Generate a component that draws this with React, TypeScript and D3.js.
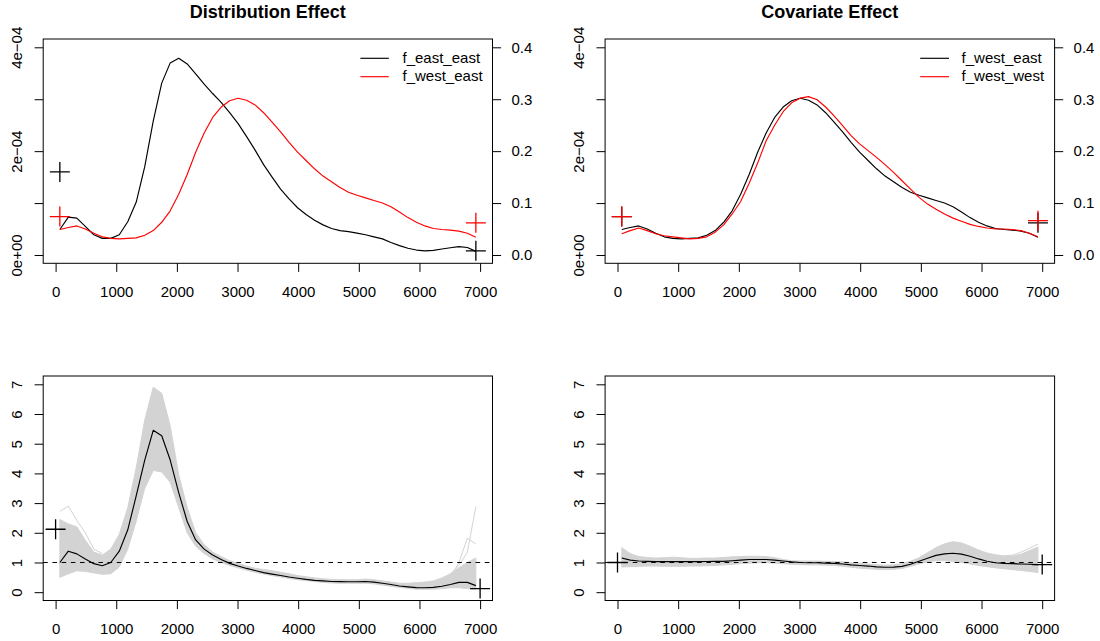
import React, { useEffect, useRef } from 'react';
import * as d3 from 'd3';

// income grid the densities were evaluated on
const gridX = [70, 210, 350, 490, 630, 770, 910, 1050, 1190, 1330, 1470, 1610, 1750, 1890, 2030, 2170, 2310, 2450, 2590, 2730,
  2870, 3010, 3150, 3290, 3430, 3570, 3710, 3850, 3990, 4130, 4270, 4410, 4550, 4690, 4830, 4970, 5110, 5250, 5390, 5530,
  5670, 5810, 5950, 6090, 6230, 6370, 6510, 6650, 6790, 6930];

// densities, in units of 1e-04
const fEastEast = [0.49, 0.73, 0.71, 0.55, 0.39, 0.32, 0.32, 0.39, 0.64, 1.02, 1.70, 2.58, 3.31, 3.70, 3.79, 3.68, 3.49, 3.29, 3.11, 2.94,
  2.74, 2.53, 2.28, 2.02, 1.74, 1.50, 1.27, 1.08, 0.91, 0.78, 0.67, 0.58, 0.51, 0.47, 0.45, 0.42, 0.39, 0.35, 0.31, 0.24,
  0.18, 0.13, 0.095, 0.08, 0.09, 0.115, 0.14, 0.16, 0.145, 0.07];
const fWestEast = [0.49, 0.53, 0.56, 0.50, 0.42, 0.35, 0.32, 0.31, 0.32, 0.33, 0.38, 0.47, 0.63, 0.85, 1.17, 1.55, 1.98, 2.35, 2.65, 2.85,
  2.97, 3.02, 2.98, 2.89, 2.74, 2.56, 2.37, 2.17, 1.98, 1.82, 1.66, 1.52, 1.41, 1.30, 1.21, 1.15, 1.10, 1.05, 1.00, 0.93,
  0.83, 0.72, 0.63, 0.56, 0.51, 0.49, 0.48, 0.46, 0.42, 0.34];
const fWestWest = [0.41, 0.47, 0.52, 0.47, 0.41, 0.37, 0.35, 0.33, 0.31, 0.32, 0.35, 0.44, 0.58, 0.79, 1.03, 1.38, 1.77, 2.20, 2.50, 2.76,
  2.93, 3.02, 3.05, 2.99, 2.85, 2.68, 2.49, 2.30, 2.14, 2.01, 1.88, 1.74, 1.59, 1.43, 1.27, 1.11, 0.98, 0.88, 0.79, 0.71,
  0.65, 0.59, 0.55, 0.52, 0.50, 0.50, 0.49, 0.47, 0.42, 0.35];

// point masses at the ends (right axis)
const massX = [70, 6930];
const massEastEast = [0.16, 0.008];
const massWestEast = [0.074, 0.062];
const massWestWest = [0.074, 0.066];

// ratios and bootstrap band
const distRatio = [1.0, 1.38, 1.29, 1.12, 0.96, 0.89, 1.0, 1.38, 2.1, 3.25, 4.45, 5.45, 5.27, 4.45, 3.35, 2.38, 1.76, 1.45, 1.25, 1.1,
  0.97, 0.88, 0.80, 0.73, 0.66, 0.61, 0.56, 0.51, 0.47, 0.43, 0.40, 0.38, 0.36, 0.355, 0.35, 0.35, 0.36, 0.34, 0.30, 0.26,
  0.21, 0.18, 0.155, 0.15, 0.16, 0.20, 0.26, 0.33, 0.33, 0.22];
const distLo = [0.5, 0.62, 0.72, 0.7, 0.65, 0.6, 0.62, 0.85, 1.45, 2.4, 3.5, 4.1, 4.05, 3.7, 2.85, 2.0, 1.55, 1.3, 1.12, 1.0,
  0.9, 0.82, 0.74, 0.67, 0.61, 0.56, 0.51, 0.46, 0.42, 0.39, 0.36, 0.33, 0.31, 0.3, 0.3, 0.3, 0.3, 0.28, 0.24, 0.2,
  0.16, 0.13, 0.1, 0.1, 0.1, 0.12, 0.15, 0.15, 0.12, 0.1];
const distHi = [2.45, 2.3, 2.2, 1.75, 1.35, 1.25, 1.45, 1.95, 2.85, 4.2, 5.8, 6.9, 6.7, 5.6, 3.95, 2.85, 2.0, 1.6, 1.35, 1.2,
  1.06, 0.97, 0.88, 0.81, 0.76, 0.72, 0.67, 0.62, 0.56, 0.52, 0.48, 0.45, 0.43, 0.42, 0.42, 0.42, 0.44, 0.42, 0.38, 0.34,
  0.3, 0.3, 0.32, 0.34, 0.38, 0.48, 0.62, 0.82, 1.0, 1.15];
const distOutStartX = [70, 210, 350, 490, 630, 770];
const distOutStart = [2.72, 2.9, 2.42, 2.0, 1.45, 1.3];
const distOutEndX = [6510, 6650, 6790, 6930];
const distOutEndA = [0.6, 0.9, 1.35, 2.88];
const distOutEndB = [0.5, 1.0, 1.82, 1.62];

const covRatio = [1.15, 1.08, 1.05, 1.04, 1.03, 1.03, 1.03, 1.03, 1.03, 1.03, 1.035, 1.04, 1.04, 1.06, 1.08, 1.10, 1.10, 1.10, 1.08, 1.05,
  1.02, 1.0, 0.99, 0.99, 0.98, 0.97, 0.95, 0.92, 0.90, 0.88, 0.85, 0.84, 0.845, 0.87, 0.94, 1.04, 1.14, 1.24, 1.29, 1.31,
  1.28, 1.21, 1.12, 1.04, 0.99, 0.97, 0.96, 0.95, 0.94, 0.93];
const covLo = [0.85, 0.86, 0.87, 0.88, 0.88, 0.87, 0.87, 0.87, 0.88, 0.88, 0.89, 0.9, 0.92, 0.94, 0.96, 0.98, 0.99, 0.99, 0.98, 0.96,
  0.94, 0.93, 0.92, 0.92, 0.91, 0.9, 0.87, 0.84, 0.81, 0.79, 0.77, 0.76, 0.77, 0.8, 0.87, 0.95, 1.02, 1.06, 1.06, 1.04,
  1.0, 0.95, 0.9, 0.86, 0.82, 0.79, 0.76, 0.73, 0.7, 0.66];
const covHi = [1.5, 1.3, 1.2, 1.17, 1.15, 1.16, 1.18, 1.16, 1.14, 1.14, 1.15, 1.15, 1.17, 1.19, 1.2, 1.21, 1.21, 1.2, 1.16, 1.1,
  1.06, 1.05, 1.05, 1.05, 1.04, 1.03, 1.02, 0.99, 0.97, 0.95, 0.92, 0.91, 0.92, 0.96, 1.04, 1.16, 1.33, 1.5, 1.63, 1.7,
  1.66, 1.55, 1.42, 1.32, 1.26, 1.22, 1.22, 1.28, 1.4, 1.52];
const covOutEndX = [6370, 6510, 6650, 6790, 6930];
const covOutEnd = [1.22, 1.25, 1.35, 1.48, 1.62];

const ratioMassX = [0, 7000];
const distRatioMass = [2.12, 0.12];
const covRatioMass = [1.0, 0.93];

const xTicks = [0, 1000, 2000, 3000, 4000, 5000, 6000, 7000];
const densTicks = [0, 1, 2, 3, 4];
const massTicks = [0, 0.1, 0.2, 0.3, 0.4];
const ratioTicks = [0, 1, 2, 3, 4, 5, 6, 7];

const FONT = '"Liberation Sans", Arial, Helvetica, sans-serif';
const GREY = '#d3d3d3';
const TICK = 8.6;

const App = () => {
  const svgRef = useRef(null);

  useEffect(() => {
    const svg = d3.select(svgRef.current);
    svg.selectAll("*").remove();
    svg.attr("width", 1100).attr("height", 641).style("font-family", FONT);

    svg.append("rect").attr("width", 1100).attr("height", 641).attr("fill", "#fff");

    const panels = {
      tl: { left: 43.2, right: 492.5, top: 39, bottom: 263.3 },
      tr: { left: 605.1, right: 1054.6, top: 39, bottom: 263.3 },
      bl: { left: 43.2, right: 492.5, top: 376, bottom: 600.5 },
      br: { left: 605.1, right: 1054.6, top: 376, bottom: 600.5 },
    };
    const xDomain = [-204.4, 7204.4];

    const styleAxis = g => {
      g.attr("font-family", null).attr("font-size", null);
      g.select(".domain").remove();
      g.selectAll("line").attr("stroke", "#000").attr("stroke-width", 1);
      g.selectAll("text").attr("fill", "#000").style("font-size", "15px").style("font-family", FONT);
    };

    const frame = (p, y, yTicks, yFmt) => {
      const x = d3.scaleLinear().domain(xDomain).range([p.left, p.right]);
      const gx = svg.append("g").attr("transform", `translate(0,${p.bottom})`)
        .call(d3.axisBottom(x).tickValues(xTicks).tickSize(TICK).tickPadding(14.3).tickFormat(d3.format("d")));
      styleAxis(gx);
      const gy = svg.append("g").attr("transform", `translate(${p.left},0)`)
        .call(d3.axisLeft(y).tickValues(yTicks).tickSize(TICK).tickFormat(yFmt));
      styleAxis(gy);
      gy.selectAll("text")
        .attr("x", null).attr("dy", null)
        .attr("text-anchor", "middle")
        .attr("transform", "translate(-21.6,0) rotate(-90)");
      svg.append("rect")
        .attr("x", p.left).attr("y", p.top)
        .attr("width", p.right - p.left).attr("height", p.bottom - p.top)
        .attr("fill", "none").attr("stroke", "#000").attr("stroke-width", 1);
      return x;
    };

    const drawLine = (xs, ys, x, y, color, width = 1.15) => {
      const line = d3.line().x(d => x(d[0])).y(d => y(d[1]));
      svg.append("path")
        .datum(xs.map((v, i) => [v, ys[i]]))
        .attr("d", line)
        .attr("fill", "none")
        .attr("stroke", color)
        .attr("stroke-width", width)
        .attr("stroke-linejoin", "round");
    };

    const drawBand = (lo, hi, x, y) => {
      const area = d3.area().x((d, i) => x(gridX[i])).y0(d => y(d[0])).y1(d => y(d[1]));
      svg.append("path")
        .datum(lo.map((v, i) => [v, hi[i]]))
        .attr("d", area)
        .attr("fill", GREY)
        .attr("stroke", GREY)
        .attr("stroke-width", 1);
    };

    const drawCross = (xs, ys, x, y, color) => {
      xs.forEach((v, i) => {
        const cx = x(v), cy = y(ys[i]);
        svg.append("path")
          .attr("d", `M${cx - 10},${cy}H${cx + 10}M${cx},${cy - 10}V${cy + 10}`)
          .attr("stroke", color)
          .attr("stroke-width", 1.3)
          .attr("fill", "none");
      });
    };

    const title = (p, text) => {
      svg.append("text")
        .attr("x", (p.left + p.right) / 2).attr("y", 17.7)
        .attr("text-anchor", "middle")
        .style("font-size", "18px").style("font-weight", "bold")
        .text(text);
    };

    const legend = (pos, items) => {
      items.forEach((it, i) => {
        const ly = 58.3 + i * 18.4;
        svg.append("line").attr("x1", pos[0]).attr("x2", pos[1]).attr("y1", ly).attr("y2", ly)
          .attr("stroke", it.color).attr("stroke-width", 1.15);
        svg.append("text").attr("x", pos[2]).attr("y", ly + 4.2)
          .style("font-size", "15px").text(it.label);
      });
    };

    const densFmt = d => (d === 0 ? "0e+00" : d % 2 === 0 ? `${d}e\u221204` : "");

    // top panels: densities
    const topPanel = (p, blackY, redY, blackMass, redMass, name, labels, legPos) => {
      const y = d3.scaleLinear().domain([-0.16, 4.16]).range([p.bottom, p.top]);
      const yMass = d3.scaleLinear().domain([-0.016, 0.416]).range([p.bottom, p.top]);
      const x = frame(p, y, densTicks, densFmt);
      const gr = svg.append("g").attr("transform", `translate(${p.right},0)`)
        .call(d3.axisRight(yMass).tickValues(massTicks).tickSize(TICK).tickPadding(19 - TICK).tickFormat(d3.format(".1f")));
      styleAxis(gr);
      drawLine(gridX, blackY, x, y, "#000");
      drawLine(gridX, redY, x, y, "#ff0000");
      drawCross(massX, blackMass, x, yMass, "#000");
      drawCross(massX, redMass, x, yMass, "#ff0000");
      title(p, name);
      legend(legPos, [{ label: labels[0], color: "#000" }, { label: labels[1], color: "#ff0000" }]);
    };

    topPanel(panels.tl, fEastEast, fWestEast, massEastEast, massWestEast, "Distribution Effect",
      ["f_east_east", "f_west_east"], [360.4, 388.8, 402.5]);
    topPanel(panels.tr, fWestEast, fWestWest, massWestEast, massWestWest, "Covariate Effect",
      ["f_west_east", "f_west_west"], [920.2, 949, 961.6]);

    // bottom panels: ratios with bootstrap curves
    const bottomPanel = (p, lo, hi, outs, ratio, mass) => {
      const y = d3.scaleLinear().domain([-0.28, 7.28]).range([p.bottom, p.top]);
      const x = frame(p, y, ratioTicks, d3.format("d"));
      drawBand(lo, hi, x, y);
      outs.forEach(o => drawLine(o[0], o[1], x, y, GREY, 1));
      drawLine(gridX, ratio, x, y, "#000");
      svg.append("line")
        .attr("x1", p.left).attr("x2", p.right).attr("y1", y(1)).attr("y2", y(1))
        .attr("stroke", "#000").attr("stroke-width", 1).attr("stroke-dasharray", "4.6,4.6");
      drawCross(ratioMassX, mass, x, y, "#000");
    };

    bottomPanel(panels.bl, distLo, distHi,
      [[distOutStartX, distOutStart], [distOutEndX, distOutEndA], [distOutEndX, distOutEndB]],
      distRatio, distRatioMass);
    bottomPanel(panels.br, covLo, covHi, [[covOutEndX, covOutEnd]], covRatio, covRatioMass);
  }, []);

  return <svg ref={svgRef} style={{ position: 'absolute', left: 0, top: 0 }}></svg>;
};

export default App;
